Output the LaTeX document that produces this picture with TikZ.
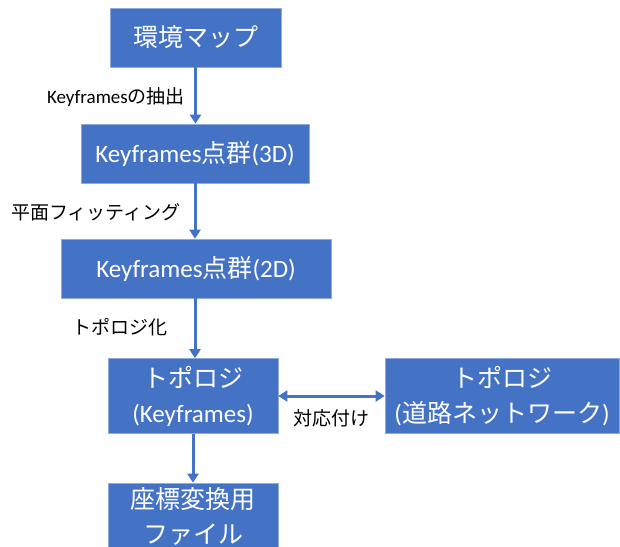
\documentclass[tikz,border=0pt]{standalone}
\usepackage{fontspec}
\setmainfont{Carlito}
\newfontfamily\cjk{Noto Sans CJK JP}
\usetikzlibrary{arrows.meta}
\definecolor{boxblue}{HTML}{4472C4}
\definecolor{boxedge}{HTML}{8FAADC}
\tikzset{
  box/.style={rectangle, fill=boxblue, draw=boxedge, line width=0.6pt, text=white, inner sep=0pt, align=center, font=\fontsize{25}{35}\selectfont},
  flow/.style={draw=boxblue, line width=3pt, -{Triangle[width=11pt,length=9pt]}},
  both/.style={draw=boxblue, line width=3pt, {Triangle[width=11pt,length=9pt]}-{Triangle[width=11pt,length=9pt]}},
  lab/.style={text=black, inner sep=0pt, font=\fontsize{19}{22}\selectfont}
}
\begin{document}
\begin{tikzpicture}[x=1pt,y=-1pt]
\useasboundingbox (0,0) rectangle (620,546);
\node[box, minimum width=171pt, minimum height=59pt] (b1) at (195.5,37.5) {\cjk 環境マップ};
\node[box, minimum width=228pt, minimum height=59pt] (b2) at (195,153.5) {Keyframes{\cjk 点群}(3D)};
\node[box, minimum width=270pt, minimum height=59pt] (b3) at (196,268.5) {Keyframes{\cjk 点群}(2D)};
\node[box, minimum width=170pt, minimum height=75pt] (b4) at (193,396) {{\cjk トポロジ}\\(Keyframes)};
\node[box, minimum width=234pt, minimum height=75pt] (b5) at (502,396) {{\cjk トポロジ}\\({\cjk 道路ネットワーク})};
\node[box, minimum width=170pt, minimum height=66pt] (b6) at (193,516) {{\cjk 座標変換用}\\{\cjk ファイル}};
\draw[flow] (b1.south) -- (b1.south |- b2.north);
\draw[flow] (b2.south) -- (b2.south |- b3.north);
\draw[flow] (b3.south -| b4.north) ++(2,0) coordinate (t3) -- (t3 |- b4.north);
\draw[flow] (b4.south) -- (b6.north);
\draw[both] (b4.east) -- (b5.west);
\node[lab, anchor=east] (l1) at (185,97) {Keyframes{\cjk の抽出}};
\node[lab, anchor=east] (l2) at (181,212) {\cjk 平面フィッティング};
\node[lab, anchor=east] (l3) at (168,327) {\cjk トポロジ化};
\node[lab] (l4) at (331,418) {\cjk 対応付け};
\end{tikzpicture}
\end{document}
